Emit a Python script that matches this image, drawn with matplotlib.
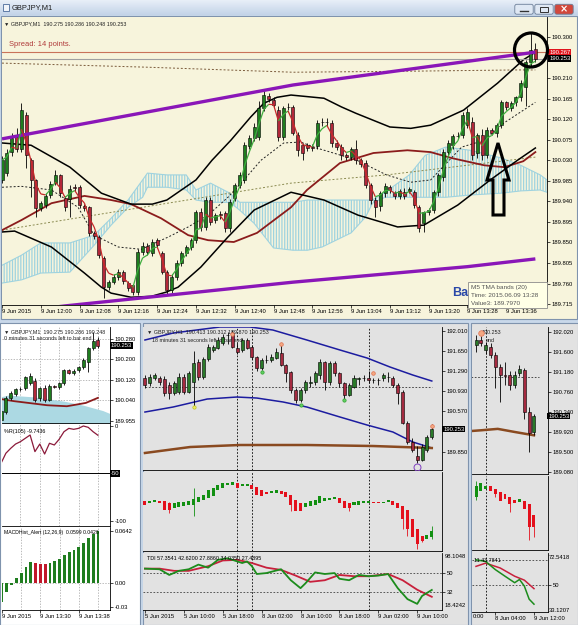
import numpy as np
import pandas as pd
import matplotlib
matplotlib.use('Agg')
import matplotlib.pyplot as plt
from matplotlib.patches import Rectangle, Ellipse, Polygon, FancyBboxPatch
from matplotlib.collections import LineCollection
from matplotlib.colors import LinearSegmentedColormap
import matplotlib.transforms as mtransforms

plt.rcParams['font.family'] = ['Liberation Sans', 'DejaVu Sans']

# ======================= DATA =======================
# --- main chart GBPJPY M1 (11:52 .. 13:42) ---
m1_open = [189.987, 190.002, 190.048, 190.081, 190.054, 190.129, 190.030, 189.987, 189.925, 189.932,
           189.954, 189.980, 189.998, 189.947, 189.945, 189.971, 189.971, 189.930, 189.927, 189.871,
           189.862, 189.816, 189.752, 189.763, 189.774, 189.785, 189.761, 189.757, 189.741, 189.829,
           189.842, 189.827, 189.855, 189.827, 189.785, 189.746, 189.774, 189.805, 189.827, 189.840,
           189.855, 189.916, 189.884, 189.943, 189.899, 189.912, 189.914, 189.881, 189.947, 189.976,
           189.987, 190.061, 190.079, 190.081, 190.144, 190.171, 190.162, 190.140, 190.081, 190.147,
           190.147, 190.085, 190.063, 190.063, 190.059, 190.061, 190.114, 190.113, 190.111, 190.068,
           190.059, 190.041, 190.037, 190.054, 190.030, 190.024, 189.976, 189.943, 189.930, 189.958,
           189.971, 189.958, 189.952, 189.960, 189.963, 189.960, 189.927, 189.892, 189.916, 189.921,
           189.960, 189.993, 190.048, 190.063, 190.083, 190.085, 190.107, 190.114, 190.046, 190.085,
           190.041, 190.096, 190.090, 190.107, 190.157, 190.144, 190.157, 190.168, 190.190, 190.245,
           190.274]
m1_close = [190.030, 190.046, 190.079, 190.054, 190.140, 190.041, 189.987, 189.925, 189.936, 189.952,
            189.978, 189.998, 189.958, 189.927, 189.967, 189.970, 189.932, 189.925, 189.871, 189.864,
            189.822, 189.752, 189.763, 189.774, 189.785, 189.765, 189.750, 189.741, 189.829, 189.842,
            189.829, 189.851, 189.844, 189.785, 189.746, 189.774, 189.805, 189.827, 189.840, 189.855,
            189.916, 189.884, 189.943, 189.895, 189.910, 189.910, 189.881, 189.938, 189.976, 189.998,
            190.063, 190.079, 190.103, 190.144, 190.173, 190.164, 190.151, 190.081, 190.144, 190.146,
            190.090, 190.052, 190.046, 190.057, 190.058, 190.111, 190.113, 190.114, 190.068, 190.059,
            190.041, 190.037, 190.054, 190.030, 190.022, 189.976, 189.943, 189.927, 189.958, 189.973,
            189.965, 189.952, 189.963, 189.952, 189.967, 189.932, 189.881, 189.916, 189.921, 189.960,
            189.998, 190.048, 190.068, 190.083, 190.084, 190.129, 190.136, 190.041, 190.085, 190.041,
            190.096, 190.090, 190.107, 190.157, 190.147, 190.155, 190.168, 190.199, 190.245, 190.271,
            190.253]
m1_high = [190.040, 190.055, 190.090, 190.101, 190.155, 190.135, 190.035, 189.990, 189.940, 189.958,
           189.985, 190.008, 190.000, 189.952, 189.975, 189.978, 189.976, 189.935, 189.930, 189.875,
           189.866, 189.820, 189.768, 189.780, 189.792, 189.790, 189.766, 189.760, 189.835, 189.850,
           189.848, 189.858, 189.860, 189.832, 189.790, 189.780, 189.812, 189.832, 189.845, 189.860,
           189.922, 189.925, 189.950, 189.950, 189.915, 189.918, 189.918, 189.945, 189.980, 190.005,
           190.070, 190.086, 190.112, 190.160, 190.184, 190.178, 190.168, 190.150, 190.150, 190.156,
           190.152, 190.092, 190.068, 190.068, 190.066, 190.118, 190.122, 190.122, 190.118, 190.074,
           190.066, 190.046, 190.060, 190.075, 190.035, 190.030, 189.980, 189.950, 189.962, 189.980,
           189.975, 189.962, 189.968, 189.970, 189.972, 189.966, 189.932, 189.920, 189.925, 189.965,
           190.003, 190.055, 190.074, 190.088, 190.092, 190.135, 190.145, 190.125, 190.090, 190.098,
           190.102, 190.100, 190.112, 190.162, 190.160, 190.160, 190.172, 190.205, 190.250, 190.309,
           190.287]
m1_low = [189.980, 189.995, 190.040, 190.048, 190.048, 190.013, 189.949, 189.906, 189.918, 189.926,
          189.948, 189.975, 189.950, 189.920, 189.906, 189.962, 189.926, 189.918, 189.865, 189.857,
          189.815, 189.728, 189.745, 189.758, 189.768, 189.758, 189.744, 189.735, 189.735, 189.822,
          189.822, 189.820, 189.838, 189.780, 189.738, 189.740, 189.768, 189.798, 189.820, 189.834,
          189.848, 189.876, 189.878, 189.888, 189.893, 189.902, 189.872, 189.874, 189.940, 189.970,
          189.980, 190.054, 190.072, 190.074, 190.138, 190.158, 190.145, 190.072, 190.075, 190.140,
          190.085, 190.040, 190.030, 190.050, 190.050, 190.055, 190.105, 190.106, 190.060, 190.052,
          190.030, 190.030, 190.030, 190.022, 190.015, 189.970, 189.935, 189.905, 189.920, 189.950,
          189.958, 189.945, 189.945, 189.945, 189.958, 189.925, 189.873, 189.873, 189.910, 189.915,
          189.952, 189.985, 190.040, 190.055, 190.076, 190.078, 190.100, 190.030, 190.036, 190.030,
          190.035, 190.086, 190.082, 190.100, 190.140, 190.138, 190.150, 190.160, 190.150, 190.236,
          190.245]
m1_time_labels = ['9 Jun 2015', '9 Jun 12:00', '9 Jun 12:08', '9 Jun 12:16', '9 Jun 12:24',
                  '9 Jun 12:32', '9 Jun 12:40', '9 Jun 12:48', '9 Jun 12:56', '9 Jun 13:04',
                  '9 Jun 13:12', '9 Jun 13:20', '9 Jun 13:28', '9 Jun 13:36']
m1_price_ticks = [190.300, 190.210, 190.165, 190.120, 190.075, 190.030, 189.985, 189.940,
                  189.895, 189.850, 189.805, 189.760, 189.715]
ask_price, bid_price = 190.267, 190.253

# TMA channel (purple)
tma_up_t = [0, 30, 60, 85, 110]
tma_up = [190.077, 190.136, 190.195, 190.231, 190.267]
tma_lo_t = [0, 13, 60, 96, 110]
tma_lo = [189.694, 189.711, 189.763, 189.797, 189.814]
# black envelope curves
env_up_t = [0, 6, 14, 20.5, 26.6, 31, 34, 40, 43.3, 47.2, 51.3, 54, 56.7, 59.6, 66.4, 70, 73, 80,
            84.3, 88.4, 95.2, 102.2, 107.5, 110]
env_up = [190.068, 190.063, 190.015, 189.958, 189.934, 189.934, 189.943, 189.987, 190.030, 190.074,
          190.125, 190.155, 190.168, 190.173, 190.166, 190.147, 190.133, 190.103, 190.100, 190.107,
          190.140, 190.199, 190.250, 190.267]
env_lo_t = [0, 2.6, 10.2, 17, 20.5, 22.5, 26.6, 30.8, 33.8, 36.3, 41, 46.6, 52, 59.6, 66.4, 73.4,
            81.6, 87, 94, 100.7, 106.3, 110]
env_lo = [189.873, 189.875, 189.840, 189.783, 189.752, 189.739, 189.730, 189.732, 189.741, 189.752,
          189.796, 189.862, 189.921, 189.960, 189.943, 189.910, 189.884, 189.888, 189.932, 189.987,
          190.030, 190.057]
# maroon moving average
ma_t = [0, 4, 10.2, 17, 22.5, 26.6, 32.8, 38.4, 42.5, 47.8, 52.6, 59.6, 62.9, 69.7, 76.6, 83.6,
        88.4, 92.7, 99.5, 103.6, 107.5, 110]
ma_v = [189.877, 189.899, 189.936, 189.952, 189.943, 189.934, 189.903, 189.866, 189.855, 189.851,
        189.871, 189.927, 189.965, 190.024, 190.046, 190.052, 190.048, 190.035, 190.019, 190.015,
        190.028, 190.048]
# dotted lines
dot_hi_t = [0, 30, 60, 82, 106, 110]
dot_hi = [190.243, 190.234, 190.223, 190.225, 190.228, 190.228]
dot_olive_t = [0, 59.6, 79.3, 110]
dot_olive = [189.877, 189.980, 189.998, 190.037]
dash_mid_t = [0, 4, 10.2, 15.7, 19, 24, 28.7, 34.3, 38.4, 42.5, 46.6, 49.9, 53.4, 58.1, 61.6, 64.9,
              69.9, 73.2, 79.3, 84.3, 88.4, 94.8, 99.5, 103.4, 110]
dash_mid = [189.971, 189.973, 189.965, 189.927, 189.866, 189.840, 189.835, 189.862, 189.884, 189.910,
            189.949, 189.987, 190.030, 190.068, 190.070, 190.057, 190.041, 190.030, 189.998, 189.982,
            189.987, 190.059, 190.074, 190.111, 190.157]
# ichimoku cloud
cloud_t = [0, 4, 8, 14, 19, 22.5, 26, 29, 30, 34, 38, 40, 43, 47, 49, 52, 56, 60, 63, 66, 72, 75,
           76.4, 79, 84, 87.3, 91.5, 96.6, 103, 107, 111, 112.4]
cloud_top = [189.800, 189.822, 189.849, 189.849, 189.866, 189.903, 189.943, 189.987, 190.002, 189.998,
             189.998, 189.965, 189.980, 189.958, 189.938, 189.938, 189.938, 189.938, 189.943, 189.943,
             189.943, 189.943, 189.943, 189.960, 189.998, 190.041, 190.059, 190.052, 190.035, 190.019,
             189.998, 189.987]
cloud_bot = [189.761, 189.768, 189.783, 189.785, 189.844, 189.888, 189.927, 189.949, 189.971, 189.971,
             189.965, 189.943, 189.938, 189.938, 189.921, 189.892, 189.838, 189.833, 189.833, 189.840,
             189.871, 189.906, 189.936, 189.949, 189.949, 189.949, 189.949, 189.954, 189.958, 189.963,
             189.965, 189.960]

# --- left window (M1, last 21 bars) ---
left_first = 90
wpr = [-39.3, -28.7, -23.5, -19.0, -16.5, -13.0, -9.5, -27.0, -19.0, -29.5, -18.2, -20.0, -14.0,
       -6.0, -2.5, -3.5, -2.5, 0.0, -1.4, -6.0, -9.74]
macd = [-0.024, -0.011, -0.003, 0.006, 0.012, 0.020, 0.026, 0.025, 0.024, 0.023, 0.025, 0.027,
        0.030, 0.034, 0.038, 0.041, 0.044, 0.049, 0.056, 0.061, 0.064]
left_price_ticks = [190.280, 190.200, 190.120, 190.040, 189.955]

# --- middle window (H1) ---
h1_open = [191.168, 191.078, 191.168, 191.168, 191.150, 191.042, 190.899, 190.917, 191.186, 190.917,
           191.096, 191.454, 191.186, 191.508, 191.670, 191.705, 191.795, 191.938, 191.974, 191.705,
           191.670, 191.849, 191.723, 191.544, 191.347, 191.490, 191.490, 191.526, 191.616, 191.401,
           191.275, 190.953, 190.773, 190.953, 191.078, 191.096, 191.221, 191.454, 191.096, 191.437,
           191.257, 191.078, 190.863, 191.006, 191.150, 191.168, 191.170, 191.135, 191.140, 191.168,
           191.190, 191.168, 191.042, 190.917, 190.361, 190.021, 189.770, 189.698, 189.877, 190.110]
h1_close = [191.042, 191.186, 191.221, 191.096, 190.899, 190.899, 191.078, 191.186, 190.917, 191.257,
            191.437, 191.186, 191.508, 191.723, 191.723, 191.849, 191.902, 191.935, 191.723, 191.634,
            191.849, 191.705, 191.544, 191.347, 191.490, 191.485, 191.544, 191.634, 191.401, 191.257,
            190.953, 190.773, 190.953, 191.096, 191.096, 191.257, 191.454, 191.096, 191.437, 191.257,
            191.078, 190.863, 191.042, 191.168, 191.160, 191.175, 191.135, 191.140, 191.130, 191.221,
            191.180, 191.042, 190.899, 190.361, 190.021, 189.877, 189.698, 189.931, 190.110, 190.253]
h1_high = [191.22, 191.24, 191.26, 191.20, 191.20, 191.10, 191.12, 191.25, 191.24, 191.30,
           191.65, 191.50, 191.55, 191.78, 191.76, 191.90, 191.95, 192.00, 192.03, 191.80,
           191.88, 191.88, 191.76, 191.56, 191.52, 191.58, 191.60, 191.70, 191.78, 191.42,
           191.30, 190.98, 190.98, 191.14, 191.20, 191.30, 191.50, 191.48, 191.48, 191.47,
           191.28, 191.10, 191.08, 191.22, 191.19, 191.22, 191.30, 191.17, 191.17, 191.26,
           191.28, 191.20, 191.08, 190.95, 190.40, 190.10, 189.95, 189.98, 190.15, 190.35]
h1_low = [190.98, 191.02, 191.14, 191.05, 190.85, 190.80, 190.86, 190.88, 190.88, 190.90,
          190.648, 191.14, 191.15, 191.48, 191.64, 191.68, 191.76, 191.78, 191.70, 191.60,
          191.64, 191.68, 191.50, 191.30, 191.32, 191.44, 191.46, 191.50, 191.38, 191.10,
          190.90, 190.72, 190.74, 190.90, 191.00, 191.05, 191.15, 190.95, 191.05, 191.20,
          191.00, 190.78, 190.85, 190.98, 191.05, 191.12, 191.08, 191.08, 191.05, 191.12,
          191.10, 191.00, 190.70, 190.34, 189.98, 189.85, 189.644, 189.68, 189.85, 190.08]
h1_time_labels = ['5 Jun 2015', '5 Jun 10:00', '5 Jun 18:00', '8 Jun 02:00', '8 Jun 10:00',
                  '8 Jun 18:00', '9 Jun 02:00', '9 Jun 10:00']
h1_price_ticks = [192.010, 191.650, 191.290, 190.930, 190.570, 189.850, 189.490]
h1_band_up_t = [0, 5.8, 15.4, 21.6, 26.3, 33.3, 40.1, 45.7, 50.4, 55.1, 59]
h1_band_up = [191.849, 191.974, 192.082, 192.082, 192.028, 191.849, 191.670, 191.526, 191.365, 191.221, 191.114]
h1_band_lo_t = [0, 5.8, 12.8, 18.9, 23, 28.4, 33.3, 40.1, 45.7, 51, 55.1, 59]
h1_band_lo = [190.558, 190.648, 190.791, 190.827, 190.809, 190.738, 190.648, 190.469, 190.325, 190.200, 190.021, 189.913]
h1_ma_t = [0, 9.3, 19.5, 33.3, 46.9, 59]
h1_ma = [189.824, 189.931, 189.967, 189.967, 189.949, 189.913]
h1_vlines = [19, 22, 46]
h1_hline = 191.006
frac_up = [(18, 191.95), (28, 191.78), (47, 191.26), (59, 190.31)]
frac_dn = [(24, 191.275), (32, 190.68), (41, 190.77)]
frac_yellow = [(10, 190.64)]
frac_purple = [(56, 189.57)]
ha_open = [191.26, 191.20, 191.225, 191.26, 191.26, 191.20, 191.01, 191.05, 191.075, 191.14,
           191.14, 191.225, 191.30, 191.39, 191.475, 191.675, 191.76, 191.89, 191.89, 191.95,
           191.825, 191.85, 191.89, 191.80, 191.675, 191.60, 191.575, 191.575, 191.64, 191.60,
           191.51, 191.325, 191.20, 191.05, 191.10, 191.14, 191.20, 191.26, 191.30, 191.35,
           191.39, 191.26, 191.20, 191.14, 191.14, 191.20, 191.20, 191.24, 191.24, 191.21,
           191.225, 191.26, 191.20, 191.075, 190.95, 190.575, 190.20, 189.95, 189.825, 189.89]
ha_close = [191.14, 191.26, 191.30, 191.20, 190.95, 190.95, 191.20, 191.225, 191.225, 191.26,
            191.35, 191.425, 191.51, 191.70, 191.76, 191.89, 191.975, 191.975, 192.01, 191.76,
            191.925, 191.925, 191.725, 191.51, 191.475, 191.55, 191.64, 191.70, 191.55, 191.425,
            191.14, 190.89, 190.89, 191.20, 191.26, 191.30, 191.45, 191.39, 191.39, 191.425,
            191.20, 191.01, 191.01, 191.225, 191.26, 191.26, 191.26, 191.20, 191.21, 191.24,
            191.30, 191.14, 191.01, 190.575, 190.20, 189.89, 189.64, 189.76, 189.975, 190.14]
ha_wicks = [(5, 191.22, 190.825), (10, 191.76, 190.70), (30, 191.51, 190.89), (42, 191.20, 190.89),
            (53, 191.075, 190.20), (54, 190.95, 189.95), (56, 190.20, 189.45), (57, 189.95, 189.70),
            (59, 190.325, 189.825)]
tdi_red_t = [0, 3, 6, 9, 13, 16, 19, 22, 25, 28, 31, 34, 37, 40, 43, 46, 50, 53, 56, 59]
tdi_red = [54.2, 54.2, 52.1, 52.1, 56.5, 61.9, 62.5, 59.5, 55.1, 53.0, 47.6, 41.7, 43.2, 48.2, 47.0,
           47.0, 49.1, 43.2, 34.2, 27.5]
tdi_green_t = [0, 3, 5, 7, 9, 11, 13, 15, 17, 20, 21, 22, 23, 25, 28, 30, 32, 33, 35, 37, 39, 40,
               42, 44, 46, 48, 50, 52, 54, 56, 57, 59]
tdi_green = [54.2, 53.6, 48.2, 52.1, 53.6, 58.0, 55.1, 62.5, 64.0, 59.5, 61.0, 56.5, 49.1, 50.0, 53.6,
             43.2, 35.7, 40.2, 50.6, 49.1, 50.0, 44.6, 43.2, 48.2, 47.0, 47.6, 49.1, 35.7, 25.3, 20.8,
             28.3, 34.0]

# --- right window (H4) ---
h4_open = [191.747, 191.852, 191.642, 191.705, 191.537, 191.285, 191.117, 191.117, 190.907, 191.159, 191.222, 190.339, 189.919]
h4_close = [191.852, 191.789, 191.747, 191.537, 191.285, 191.117, 191.100, 190.907, 191.117, 191.243, 190.339, 189.898, 190.253]
h4_high = [191.95, 191.93, 191.80, 191.78, 191.60, 191.35, 191.40, 191.20, 191.20, 191.32, 191.26, 190.45, 190.30]
h4_low = [191.60, 191.72, 191.55, 191.48, 190.85, 190.55, 190.90, 190.80, 190.85, 191.10, 190.20, 189.50, 189.85]
h4_price_ticks = [192.020, 191.600, 191.180, 190.760, 190.340, 189.920, 189.500, 189.080]
h4_ma_t = [-1, 1, 4.5, 8, 12]
h4_ma = [189.94, 189.955, 189.985, 189.92, 189.85]
h4_hline = 191.075
h4_vline = 2
h4_ha_open = [191.70, 191.94, 192.00, 192.10, 192.00, 191.88, 191.82, 191.70, 191.62, 191.52, 191.58, 191.46, 191.04]
h4_ha_close = [192.12, 192.24, 192.10, 191.94, 191.82, 191.58, 191.64, 191.46, 191.48, 191.64, 191.28, 190.62, 190.62]
h4_ha_wicks = [(0, 192.30, 191.60), (4, 192.02, 191.70), (7, 191.70, 191.16), (11, 191.46, 190.14), (12, 191.04, 190.26)]
h4_tdi_red_t = [0, 2, 5, 8, 10, 12]
h4_tdi_red = [64.1, 66.5, 62.9, 56.8, 53.9, 47.6]
h4_tdi_green_t = [0, 2, 4, 6, 8, 9, 10, 11, 12]
h4_tdi_green = [69.0, 67.7, 61.7, 56.8, 52.0, 54.4, 49.5, 39.8, 36.1]

# ======================= STYLE =======================
W, H = 578, 625
CREAM = '#f7f4dc'
GRAYBG = '#e2e2e2'
FRAME = '#c9d8ea'
UP, DN = '#1f7d1f', '#b3283a'
FS = 4.2
HFS = 3.9

fig = plt.figure(figsize=(W / 100, H / 100), dpi=100)
fig.patch.set_facecolor(FRAME)


def rect(x0, y0, x1, y1):
    return [x0 / W, 1 - y1 / H, (x1 - x0) / W, (y1 - y0) / H]


def pixel_axes(z):
    a = fig.add_axes([0, 0, 1, 1])
    a.set_xlim(0, W)
    a.set_ylim(H, 0)
    a.axis('off')
    a.set_zorder(z)
    a.patch.set_alpha(0)
    return a


bg = pixel_axes(-5)
grad = np.linspace(0, 1, 32).reshape(-1, 1)
cm = LinearSegmentedColormap.from_list('tb', ['#e8eff8', '#c3d3e8'])
bg.imshow(grad, extent=(0, W, 15, 0), aspect='auto', cmap=cm, zorder=0)
bg.set_xlim(0, W)
bg.set_ylim(H, 0)
bg.add_patch(Rectangle((1, 16), 576, 303, fc=CREAM, ec='#7f93ad', lw=0.8))
bg.add_patch(Rectangle((0, 323), 139.5, 302, fc='white', ec='#7f93ad', lw=0.8))
bg.add_patch(Rectangle((142.5, 323), 325, 302, fc=GRAYBG, ec='#7f93ad', lw=0.8))
bg.add_patch(Rectangle((470.5, 323), 107, 302, fc=GRAYBG, ec='#7f93ad', lw=0.8))
bg.text(12, 8, 'GBPJPY,M1', fontsize=5.4, va='center', ha='left', color='#1a1a1a')
bg.add_patch(Rectangle((2.5, 4), 6, 7, fc='#f0f4fa', ec='#4a6a9a', lw=0.6))
for x0, fc in [(515, '#dfe8f4'), (535, '#dfe8f4'), (555, '#d2483c')]:
    bg.add_patch(FancyBboxPatch((x0, 4.5), 18, 9.5, boxstyle='round,pad=0.2,rounding_size=2',
                                fc=fc, ec='#6c7f99', lw=0.6))
bg.plot([520, 528], [11, 11], color='#333333', lw=1.0)
bg.add_patch(Rectangle((540, 6.8), 8, 5, fc='none', ec='#333333', lw=0.7))
bg.text(564, 9.3, '×', fontsize=7, ha='center', va='center', color='white', fontweight='bold',
        family='DejaVu Sans')

blend = mtransforms.blended_transform_factory


def price_box(ax, y, txt, fc):
    ax.text(1.004, y, txt, transform=blend(ax.transAxes, ax.transData), fontsize=FS,
            color='white', va='center', ha='left', clip_on=False, zorder=20,
            bbox=dict(boxstyle='square,pad=0.15', fc=fc, ec='none'))


def style_axes(ax, face, yticks, fmt):
    ax.set_facecolor(face)
    for s in ['left', 'top']:
        ax.spines[s].set_visible(False)
    for s in ['right', 'bottom']:
        ax.spines[s].set_color('black')
        ax.spines[s].set_linewidth(0.6)
    ax.yaxis.tick_right()
    ax.set_yticks(yticks)
    ax.set_yticklabels([fmt(v) for v in yticks])
    ax.tick_params(axis='y', labelsize=FS, length=2, width=0.5, pad=1.5, colors='black')
    ax.tick_params(axis='x', labelsize=FS, length=2, width=0.5, pad=1.2)


def draw_candles(ax, xs, o, c, h, l, width, edge='black', wick='black', up=UP, dn=DN, lw=0.4):
    o, c, h, l = map(np.asarray, (o, c, h, l))
    ax.vlines(xs, l, h, colors=wick, lw=0.6, zorder=3)
    cols = np.where(c >= o, up, dn)
    ax.bar(xs, np.abs(c - o), bottom=np.minimum(o, c), width=width, color=cols,
           edgecolor=edge, linewidth=lw, zorder=4)


# ======================= MAIN CHART =======================
ax = fig.add_axes(rect(2, 17, 547, 305))
style_axes(ax, CREAM, m1_price_ticks, lambda v: f'{v:.3f}')
n = len(m1_close)
xs = np.arange(n)
ax.set_xlim(0.3, 112.4)
ax.set_ylim(189.713, 190.344)
ax.set_xticks(np.arange(0, 8 * len(m1_time_labels), 8))
ax.set_xticklabels(m1_time_labels, ha='left')

plt.rcParams['hatch.linewidth'] = 0.9
ax.fill_between(cloud_t, cloud_top, cloud_bot, facecolor='none', edgecolor='#9fd3df',
                hatch='||||||', linewidth=0, zorder=1)
ax.plot(cloud_t, cloud_top, color='#9fd3df', lw=0.8, zorder=1)
ax.plot(cloud_t, cloud_bot, color='#9fd3df', lw=0.8, zorder=1)

ax.plot(dot_hi_t, dot_hi, color='#7a5a3a', lw=0.7, ls=(0, (2, 2)), zorder=2)
ax.plot(dot_olive_t, dot_olive, color='#8a8a50', lw=0.7, ls=(0, (2, 2)), zorder=2)
ax.plot(dash_mid_t, dash_mid, color='#202020', lw=0.7, ls=(0, (2, 2)), zorder=2)
ax.plot(ma_t, ma_v, color='#8b1c1c', lw=1.3, zorder=2)
ax.plot(env_up_t, env_up, color='black', lw=1.1, zorder=2)
ax.plot(env_lo_t, env_lo, color='black', lw=1.1, zorder=2)
ax.plot(tma_up_t, tma_up, color='#8a16b8', lw=2.4, zorder=5, solid_capstyle='butt')
ax.plot(tma_lo_t, tma_lo, color='#8a16b8', lw=2.4, zorder=5, solid_capstyle='butt')

ax.axhline(ask_price, color='#c9735a', lw=0.8, zorder=2)
ax.axhline(bid_price, color='#a0a0a0', lw=0.8, zorder=2)

draw_candles(ax, xs, m1_open, m1_close, m1_high, m1_low, 0.62)

ema = pd.Series(m1_close).ewm(span=3, adjust=False).mean().values
segs = [[(i, ema[i]), (i + 1, ema[i + 1])] for i in range(n - 1)]
scol = ['#3fae3f' if ema[i + 1] >= ema[i] else '#c8282a' for i in range(n - 1)]
ax.add_collection(LineCollection(segs, colors=scol, linewidths=0.9, zorder=5))

price_box(ax, ask_price, f'{ask_price:.3f}', '#e0141c')
price_box(ax, bid_price, f'{bid_price:.3f}', 'black')

ax.text(0.004, 0.975, '▼ GBPJPY,M1  190.275 190.286 190.248 190.253', transform=ax.transAxes,
        fontsize=HFS, va='center', ha='left', color='#222222')
ax.text(0.012, 0.905, 'Spread: 14 points.', transform=ax.transAxes, fontsize=5.4,
        va='center', ha='left', color='#b03a3a')

# ======================= LEFT WINDOW =======================
jx = np.arange(left_first, n)
lm = fig.add_axes(rect(2, 327, 110, 423))
style_axes(lm, 'white', left_price_ticks, lambda v: f'{v:.3f}')
lm.set_xlim(left_first + 0.2, left_first + 22.5)
lm.set_ylim(189.949, 190.327)
lm.set_xticks([])
lm.fill_between(cloud_t, cloud_top, 189.90, color='#acd9e3', lw=0, zorder=1)
lm.plot(ma_t, ma_v, color='#8b1c1c', lw=1.3, zorder=2)
for g in range(left_first + 4, left_first + 24, 4):
    lm.axvline(g, color='#a0a0a0', lw=0.5, ls=(0, (2, 2)), zorder=0)
for v in left_price_ticks[:-1]:
    lm.axhline(v, color='#a0a0a0', lw=0.5, ls=(0, (2, 2)), zorder=0)
draw_candles(lm, jx, m1_open[left_first:], m1_close[left_first:], m1_high[left_first:],
             m1_low[left_first:], 0.62)
price_box(lm, bid_price, f'{bid_price:.3f}', 'black')
lm.text(0.02, 0.955, '▼ GBPJPY,M1  190.275 190.286 190.248', transform=lm.transAxes,
        fontsize=HFS, va='center', color='#222222')
lm.text(0.02, 0.875, '0 minutes 31 seconds left to bar end', transform=lm.transAxes,
        fontsize=HFS, va='center', color='#222222')

lw_ = fig.add_axes(rect(2, 424, 110, 526))
style_axes(lw_, 'white', [0, -100], lambda v: f'{v:d}')
lw_.set_xlim(left_first + 0.2, left_first + 22.5)
lw_.set_ylim(-105.3, 2.1)
lw_.set_xticks([])
for g in range(left_first + 4, left_first + 24, 4):
    lw_.axvline(g, color='#a0a0a0', lw=0.5, ls=(0, (2, 2)), zorder=0)
lw_.axhline(-50, color='black', lw=0.7)
lw_.plot(jx, wpr, color='#8b1a3a', lw=0.9)
price_box(lw_, -50, '-50', 'black')
lw_.text(0.02, 0.93, '%R(105) -9.7436', transform=lw_.transAxes, fontsize=HFS, va='center')

lmac = fig.add_axes(rect(2, 527, 110, 610))
style_axes(lmac, 'white', [0.0642, 0.0, -0.03],
           lambda v: {0.0642: '0.0642', 0.0: '0.00', -0.03: '-0.03'}[v])
lmac.set_xlim(left_first + 0.2, left_first + 22.5)
lmac.set_ylim(-0.0333, 0.0691)
for g in range(left_first + 4, left_first + 24, 4):
    lmac.axvline(g, color='#a0a0a0', lw=0.5, ls=(0, (2, 2)), zorder=0)
lmac.axhline(0, color='#a0a0a0', lw=0.5, ls=(0, (2, 2)), zorder=0)
mcol = [UP if (i == 0 or macd[i] >= macd[i - 1]) else '#c0182a' for i in range(len(macd))]
lmac.bar(jx, macd, width=0.62, color=mcol, zorder=2)
lmac.set_xticks([left_first, left_first + 8, left_first + 16])
lmac.set_xticklabels(['9 Jun 2015', '9 Jun 13:30', '9 Jun 13:38'], ha='left')
lmac.text(0.02, 0.93, 'MACDHist_Alert (12,26,9)  0.0599 0.0426', transform=lmac.transAxes,
          fontsize=3.7, va='center')

# ======================= MIDDLE WINDOW =======================
kx = np.arange(len(h1_close))
mm = fig.add_axes(rect(143, 327, 442, 470))
style_axes(mm, GRAYBG, h1_price_ticks, lambda v: f'{v:.3f}')
mm.set_xlim(-0.4, 61.1)
mm.set_ylim(189.519, 192.082)
mm.set_xticks([])
for v in h1_vlines:
    mm.axvline(v, color='black', lw=0.6, ls=(0, (2, 2)), zorder=1)
mm.plot([0, 59], [h1_hline, h1_hline], color='#303030', lw=0.6, ls=(0, (2, 2)), zorder=1)
mm.plot(h1_band_up_t, h1_band_up, color='#1c1ca0', lw=1.1, zorder=2)
mm.plot(h1_band_lo_t, h1_band_lo, color='#1c1ca0', lw=1.1, zorder=2)
mm.plot(h1_ma_t, h1_ma, color='#8a4a20', lw=1.8, zorder=2)
draw_candles(mm, kx, h1_open, h1_close, h1_high, h1_low, 0.62, up='#2a7a2a', dn='#a52a40')
for (k, p) in frac_up:
    mm.plot(k, p, 'o', ms=2.6, mfc='#f4a882', mec='#e07050', mew=0.5, zorder=6)
for (k, p) in frac_dn:
    mm.plot(k, p, 'o', ms=2.4, mfc='#60d060', mec='#30a030', mew=0.5, zorder=6)
for (k, p) in frac_yellow:
    mm.plot(k, p, 'o', ms=2.4, mfc='#f0f060', mec='#c0c020', mew=0.5, zorder=6)
for (k, p) in frac_purple:
    mm.plot(k, p, 'o', ms=5, mfc='none', mec='#8040c0', mew=0.7, ls='none', zorder=6)
price_box(mm, h1_close[-1], f'{h1_close[-1]:.3f}', 'black')
mm.text(0.012, 0.965, '▼ GBPJPY,H1  190.413 190.312 189.870 190.253', transform=mm.transAxes,
        fontsize=HFS, va='center', color='#222222')
mm.text(0.03, 0.905, '18 minutes 31 seconds left to bar end', transform=mm.transAxes,
        fontsize=HFS, va='center', color='#222222')

mh = fig.add_axes(rect(143, 472, 442, 551))
style_axes(mh, GRAYBG, [], str)
mh.set_xlim(-0.4, 61.1)
mh.set_ylim(189.375, 192.375)
mh.set_xticks([])
for v in h1_vlines:
    mh.axvline(v, color='black', lw=0.6, ls=(0, (2, 2)), zorder=1)
ha_col = ['#129012' if cc >= oo else '#e4101c' for oo, cc in zip(ha_open, ha_close)]
for (k, hi, lo) in ha_wicks:
    mh.vlines(k, lo, hi, color=ha_col[k], lw=0.6, zorder=2)
mh.bar(kx, np.abs(np.array(ha_close) - np.array(ha_open)),
       bottom=np.minimum(ha_open, ha_close), width=0.62, color=ha_col, lw=0, zorder=3)

mt = fig.add_axes(rect(143, 553, 442, 610))
style_axes(mt, GRAYBG, [50, 32], lambda v: f'{v:d}')
mt.set_xlim(-0.4, 61.1)
mt.set_ylim(15, 69)
for v in h1_vlines:
    mt.axvline(v, color='black', lw=0.6, ls=(0, (2, 2)), zorder=1)
for v in (50, 32):
    mt.axhline(v, color='#404040', lw=0.6, ls=(0, (2, 2)), zorder=1)
mt.plot(tdi_red_t, tdi_red, color='#c8203c', lw=1.3, zorder=3)
mt.plot(tdi_green_t, tdi_green, color='#1c8c1c', lw=1.3, zorder=3)
mt.set_xticks(np.arange(0, 8 * len(h1_time_labels), 8))
mt.set_xticklabels(h1_time_labels, ha='left')
mt.text(1.01, 0.93, '98.1048', transform=mt.transAxes, fontsize=FS, va='center', clip_on=False)
mt.text(1.01, 0.08, '18.4242', transform=mt.transAxes, fontsize=FS, va='center', clip_on=False)
mt.text(0.012, 0.9, 'TDI 57.3541 42.6200 27.8860 34.0350 27.4895', transform=mt.transAxes,
        fontsize=HFS, va='center')

# ======================= RIGHT WINDOW =======================
rx = np.arange(len(h4_close))
rm = fig.add_axes(rect(472, 327, 548, 474))
style_axes(rm, GRAYBG, h4_price_ticks, lambda v: f'{v:.3f}')
rm.set_xlim(-0.83, 14.9)
rm.set_ylim(189.037, 192.125)
rm.set_xticks([])
rm.axvline(h4_vline, color='black', lw=0.6, ls=(0, (2, 2)), zorder=1)
rm.plot([-1, 13], [h4_hline, h4_hline], color='#303030', lw=0.6, ls=(0, (2, 2)), zorder=1)
rm.plot(h4_ma_t, h4_ma, color='#8a4a20', lw=1.8, zorder=2)
draw_candles(rm, rx, h4_open, h4_close, h4_high, h4_low, 0.62, up='#2a7a2a', dn='#a52a40')
rm.plot(1, 192.0, 'o', ms=4, mfc='#f4a882', mec='#e07050', mew=0.5, zorder=6)
price_box(rm, h4_close[-1], f'{h4_close[-1]:.3f}', 'black')
rm.text(0.13, 0.965, '190.253', transform=rm.transAxes, fontsize=HFS, va='center', color='#222222')
rm.text(0.18, 0.905, 'end', transform=rm.transAxes, fontsize=HFS, va='center', color='#222222')

rh = fig.add_axes(rect(472, 476, 548, 550))
style_axes(rh, GRAYBG, [], str)
rh.set_xlim(-0.83, 14.9)
rh.set_ylim(189.78, 192.48)
rh.set_xticks([])
rh.axvline(h4_vline, color='black', lw=0.6, ls=(0, (2, 2)), zorder=1)
rha_col = ['#129012' if cc >= oo else '#e4101c' for oo, cc in zip(h4_ha_open, h4_ha_close)]
for (k, hi, lo) in h4_ha_wicks:
    rh.vlines(k, lo, hi, color=rha_col[k], lw=0.6, zorder=2)
rh.bar(rx, np.abs(np.array(h4_ha_close) - np.array(h4_ha_open)),
       bottom=np.minimum(h4_ha_open, h4_ha_close), width=0.62, color=rha_col, lw=0, zorder=3)

rt = fig.add_axes(rect(472, 553, 548, 612))
style_axes(rt, GRAYBG, [50], lambda v: f'{v:d}')
rt.set_xlim(-0.83, 14.9)
rt.set_ylim(30.3, 74)
rt.axvline(h4_vline, color='black', lw=0.6, ls=(0, (2, 2)), zorder=1)
for v in (69, 50):
    rt.axhline(v, color='#404040', lw=0.6, ls=(0, (2, 2)), zorder=1)
rt.plot(h4_tdi_red_t, h4_tdi_red, color='#c8203c', lw=1.1, zorder=3)
rt.plot(h4_tdi_green_t, h4_tdi_green, color='#1c8c1c', lw=1.1, zorder=3)
rt.set_xticks([4, 12])
rt.set_xticklabels(['8 Jun 04:00', '9 Jun 12:00'], ha='left')
rt.text(1.01, 0.93, '72.5418', transform=rt.transAxes, fontsize=FS, va='center', clip_on=False)
rt.text(1.01, 0.03, '33.1207', transform=rt.transAxes, fontsize=FS, va='center', clip_on=False)
rt.text(0.02, 0.88, '11 43.7841', transform=rt.transAxes, fontsize=HFS, va='center')

# ======================= OVERLAY ANNOTATIONS =======================
ov = pixel_axes(50)
ov.text(473, 616.5, '0:00', fontsize=FS, va='center', ha='left')
ov.add_patch(Ellipse((531, 50), 33, 34, fc='none', ec='black', lw=2.3))
arrow = [(498, 143), (509, 180), (504, 180), (504, 215), (493, 215), (493, 180), (487, 180)]
ov.add_patch(Polygon(arrow, closed=True, fc='none', ec='black', lw=2.2, joinstyle='miter'))
ov.text(452, 293, 'Ba', fontsize=9, fontweight='bold', color='#2a48a8', va='center', ha='left')
ov.add_patch(Rectangle((468, 282), 79, 26, fc='#ffffe6', ec='#8c8c8c', lw=0.6))
ov.text(471, 287.5, 'M5 TMA bands (20)', fontsize=4.6, color='#555555', va='center')
ov.text(471, 295.5, 'Time: 2015.06.09 13:28', fontsize=4.6, color='#555555', va='center')
ov.text(471, 303.5, 'Value3: 189.7970', fontsize=4.6, color='#555555', va='center')

fig.savefig('out.png', dpi=100, facecolor=fig.get_facecolor())
